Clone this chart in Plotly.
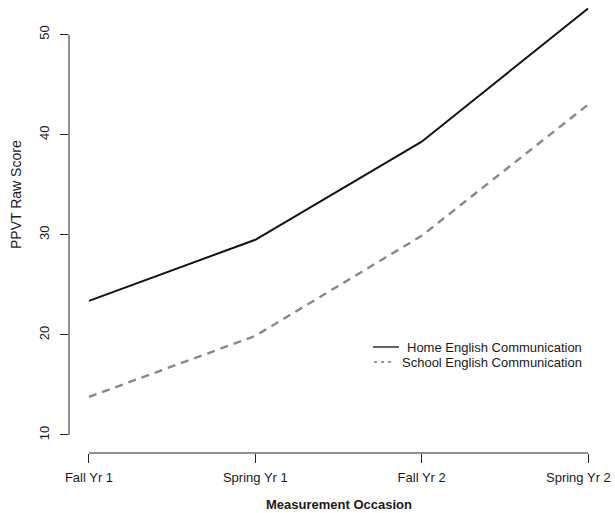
import plotly.graph_objects as go

categories = ["Fall Yr 1", "Spring Yr 1", "Fall Yr 2", "Spring Yr 2"]
home_values = [23.4, 29.5, 39.3, 52.6]
school_values = [13.8, 19.9, 29.9, 43.0]
y_ticks = [10, 20, 30, 40, 50]
series_names = ["Home English Communication", "School English Communication"]

FONT = "Liberation Sans, Arial, Helvetica, sans-serif"
TXT = "#1a1a1a"

fig = go.Figure()
fig.add_trace(go.Scatter(x=categories, y=home_values, mode="lines", name=series_names[0],
                         line=dict(color="#111111", width=2), showlegend=False))
fig.add_trace(go.Scatter(x=categories, y=school_values, mode="lines", name=series_names[1],
                         line=dict(color="#888888", width=2.4, dash="8px,6px"), showlegend=False))

W, H = 615, 513
L, R, T, B = 69, 7, 0, 60
pw = W - L - R
ph = H - T - B

def px_x(p):
    return (p - L) / pw

def px_y(p):
    return (H - B - p) / ph

# last label sits against the right edge in the reference, so it is placed as an edge-aligned label
tick_text = list(categories[:-1]) + [""]

fig.update_layout(
    width=W, height=H,
    margin=dict(l=L, r=R, t=T, b=B, pad=0, autoexpand=False),
    paper_bgcolor="white", plot_bgcolor="white",
    font=dict(family=FONT, size=13, color=TXT),
    xaxis=dict(type="category", categoryarray=categories, range=[-0.12, 3.12],
               tickvals=categories, ticktext=tick_text,
               automargin=False,
               showgrid=False, zeroline=False, showline=False,
               ticks="outside", ticklen=9, tickwidth=1, tickcolor="#222",
               ticklabelstandoff=3, tickfont=dict(size=13)),
    yaxis=dict(range=[8.2, 53.45], tickvals=y_ticks, ticktext=[str(v) for v in y_ticks],
               automargin=False,
               showgrid=False, zeroline=False, showline=False,
               ticks="outside", ticklen=8, tickwidth=1, tickcolor="#222",
               tickangle=-90, ticklabelstandoff=6, tickfont=dict(size=13)),
    shapes=[
        dict(type="line", xref="x", yref="paper", x0=categories[0], x1=categories[-1],
             y0=0, y1=0, line=dict(color="#222", width=1)),
        dict(type="line", xref="paper", yref="y", x0=0, x1=0, y0=y_ticks[0], y1=y_ticks[-1],
             line=dict(color="#222", width=1)),
        # legend samples
        dict(type="line", xref="paper", yref="paper", x0=px_x(373), x1=px_x(399),
             y0=px_y(347), y1=px_y(347), line=dict(color="#111111", width=1.3)),
        dict(type="line", xref="paper", yref="paper", x0=px_x(374), x1=px_x(394),
             y0=px_y(362), y1=px_y(362), line=dict(color="#777777", width=1.3, dash="3px,4px")),
    ],
    annotations=[
        dict(text=categories[-1], xref="paper", yref="paper", x=px_x(613), y=px_y(477),
             showarrow=False, font=dict(size=13, color=TXT), xanchor="right", yanchor="middle"),
        dict(text="PPVT Raw Score", xref="paper", yref="paper", x=px_x(16), y=px_y(195),
             textangle=-90, showarrow=False, font=dict(size=14, color=TXT),
             xanchor="center", yanchor="middle"),
        dict(text="<b>Measurement Occasion</b>", xref="paper", yref="paper", x=px_x(339), y=px_y(505),
             showarrow=False, font=dict(size=13, color=TXT), xanchor="center", yanchor="middle"),
        dict(text=series_names[0], xref="paper", yref="paper", x=px_x(584), y=px_y(347),
             showarrow=False, font=dict(size=13, color=TXT), xanchor="right", yanchor="middle"),
        dict(text=series_names[1], xref="paper", yref="paper", x=px_x(584), y=px_y(362),
             showarrow=False, font=dict(size=13, color=TXT), xanchor="right", yanchor="middle"),
    ],
)

fig.write_html("out.html",
               config={"displayModeBar": False},
               post_script="document.body.style.margin='0';document.body.style.padding='0';"
                           "document.documentElement.style.overflow='hidden';")
